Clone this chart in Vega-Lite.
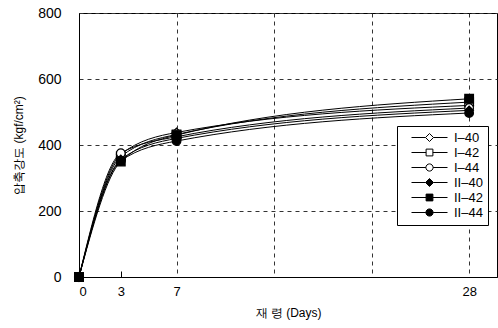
{
  "$schema": "https://vega.github.io/schema/vega-lite/v6.json",
  "autosize": "none",
  "width": 418,
  "height": 264,
  "padding": {"left": 79, "top": 13, "right": 1, "bottom": 51},
  "background": "white",
  "config": {
    "font": "Liberation Sans",
    "view": {"stroke": "black", "strokeWidth": 1},
    "axis": {"labelFont": "Liberation Sans", "titleFont": "Liberation Sans", "labelColor": "black", "titleColor": "black", "domainColor": "black", "labelFontSize": 13, "titleFontWeight": "normal"}
  },
  "data": {
    "values": [
      {"day": 0, "s": "I–40", "v": 0}, {"day": 3, "s": "I–40", "v": 372}, {"day": 7, "s": "I–40", "v": 438}, {"day": 28, "s": "I–40", "v": 520},
      {"day": 0, "s": "I–42", "v": 0}, {"day": 3, "s": "I–42", "v": 365}, {"day": 7, "s": "I–42", "v": 432}, {"day": 28, "s": "I–42", "v": 530},
      {"day": 0, "s": "I–44", "v": 0}, {"day": 3, "s": "I–44", "v": 375}, {"day": 7, "s": "I–44", "v": 425}, {"day": 28, "s": "I–44", "v": 512},
      {"day": 0, "s": "II–40", "v": 0}, {"day": 3, "s": "II–40", "v": 356}, {"day": 7, "s": "II–40", "v": 420}, {"day": 28, "s": "II–40", "v": 505},
      {"day": 0, "s": "II–42", "v": 0}, {"day": 3, "s": "II–42", "v": 350}, {"day": 7, "s": "II–42", "v": 430}, {"day": 28, "s": "II–42", "v": 540},
      {"day": 0, "s": "II–44", "v": 0}, {"day": 3, "s": "II–44", "v": 352}, {"day": 7, "s": "II–44", "v": 412}, {"day": 28, "s": "II–44", "v": 497}
    ]
  },
  "encoding": {
    "x": {
      "field": "day", "type": "quantitative",
      "scale": {"domain": [0, 30], "nice": false},
      "axis": {
        "values": [0, 3, 7, 14, 21, 28],
        "labelExpr": "(datum.value==14||datum.value==21)?'':datum.label",
        "title": "재 령 (Days)", "titleFontSize": 12, "titlePadding": 9,
        "grid": true, "gridColor": "#333", "gridDash": [4, 4], "gridWidth": 1,
        "gridOpacity": {"condition": {"test": "datum.value==3 || datum.value==0", "value": 0}, "value": 1},
        "ticks": true, "tickSize": -6, "tickColor": "black",
        "tickOpacity": {"condition": {"test": "datum.value==3", "value": 1}, "value": 0},
        "labelPadding": 14, "labelFontSize": 13
      }
    },
    "y": {
      "field": "v", "type": "quantitative",
      "scale": {"domain": [0, 800], "nice": false},
      "axis": {
        "values": [0, 200, 400, 600, 800],
        "title": "압축강도 (kgf/cm²)", "titleFontSize": 12, "titlePadding": 12,
        "grid": true, "gridColor": "#333", "gridDash": [4, 4], "gridWidth": 1,
        "ticks": false, "labelPadding": 18, "labelFontSize": 14
      }
    }
  },
  "layer": [
    {
      "mark": {"type": "line", "interpolate": "monotone", "color": "black", "strokeWidth": 1},
      "encoding": {"detail": {"field": "s"}}
    },
    {
      "mark": {"type": "point", "filled": true, "strokeWidth": 1.2, "size": 75, "opacity": 1},
      "encoding": {
        "stroke": {"value": "black"},
        "shape": {
          "field": "s", "type": "nominal", "legend": null,
          "scale": {"domain": ["I–40", "I–42", "I–44", "II–40", "II–42", "II–44"], "range": ["diamond", "square", "circle", "diamond", "square", "circle"]}
        },
        "fill": {
          "field": "s", "type": "nominal", "legend": null,
          "scale": {"domain": ["I–40", "I–42", "I–44", "II–40", "II–42", "II–44"], "range": ["white", "white", "white", "black", "black", "black"]}
        }
      }
    },
    {
      "mark": {"type": "point", "filled": true, "strokeWidth": 1, "size": 64, "opacity": 0},
      "encoding": {
        "stroke": {"value": "black"},
        "shape": {
          "field": "s", "type": "nominal", "title": null,
          "scale": {"domain": ["I–40", "I–42", "I–44", "II–40", "II–42", "II–44"], "range": [
            "M-4.5,0H-1M-1,0L0,-1L1,0L0,1ZM1,0H4.5",
            "M-4.5,0H-0.85M-0.85,-0.85H0.85V0.85H-0.85ZM0.85,0H4.5",
            "M-4.5,0H-0.9M-0.9,0A0.9,0.9 0 1,0 0.9,0A0.9,0.9 0 1,0 -0.9,0ZM0.9,0H4.5",
            "M-4.5,0H-1M-1,0L0,-1L1,0L0,1ZM1,0H4.5",
            "M-4.5,0H-0.85M-0.85,-0.85H0.85V0.85H-0.85ZM0.85,0H4.5",
            "M-4.5,0H-0.9M-0.9,0A0.9,0.9 0 1,0 0.9,0A0.9,0.9 0 1,0 -0.9,0ZM0.9,0H4.5"
          ]},
          "legend": {
            "orient": "none", "legendX": 318, "legendY": 113,
            "strokeColor": "black", "fillColor": "white", "padding": 5,
            "labelFontSize": 13, "labelColor": "black", "rowPadding": 1,
            "symbolSize": 64, "symbolOpacity": 1, "symbolStrokeWidth": 1,
            "symbolOffset": 21, "labelOffset": 18
          }
        },
        "fill": {
          "field": "s", "type": "nominal", "title": null,
          "scale": {"domain": ["I–40", "I–42", "I–44", "II–40", "II–42", "II–44"], "range": ["white", "white", "white", "black", "black", "black"]}
        }
      }
    }
  ],
  "resolve": {"scale": {"shape": "independent", "fill": "independent"}}
}
